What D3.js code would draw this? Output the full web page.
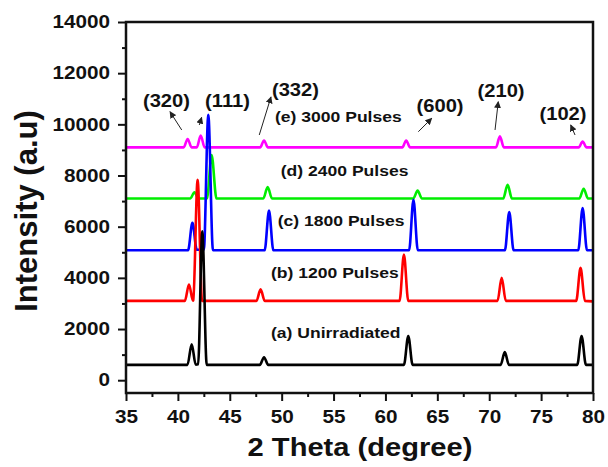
<!DOCTYPE html>
<html>
<head>
<meta charset="utf-8">
<script src="https://cdn.jsdelivr.net/npm/d3@7"></script>
<style>
  body { margin: 0; background: #fff; }
  text { font-family: "Liberation Sans", Arial, sans-serif; font-weight: bold; fill: #111; }
</style>
</head>
<body>
<svg id="chart" width="608" height="467"></svg>
<script>
// XRD patterns, [2theta, intensity]
const seriesA = [[35,600],[40.92,600],[41.33,1400],[41.72,610],[41.95,620],[42.35,5820],[42.78,600],[47.9,600],[48.3,900],[48.7,600],
  [61.78,600],[62.2,1730],[62.62,600],[71.1,600],[71.5,1100],[71.9,600],[78.48,600],[78.9,1730],[79.32,600],[80,600]];
const seriesB = [[35,3100],[40.67,3100],[41.07,3740],[41.45,3110],[41.48,3120],[41.9,7830],[42.33,3100],[47.57,3100],[47.97,3550],[48.37,3100],
  [61.36,3100],[61.78,4910],[62.2,3100],[70.8,3100],[71.2,4000],[71.6,3100],[78.38,3100],[78.8,4390],[79.22,3100],[80,3080]];
const seriesC = [[35,5080],[40.98,5080],[41.4,6150],[41.82,5100],[42.5,5100],[42.93,10370],[43.38,5080],[48.36,5080],[48.78,6630],[49.2,5080],
  [62.28,5080],[62.7,7050],[63.12,5080],[71.51,5080],[71.93,6570],[72.35,5080],[78.58,5080],[79.0,6730],[79.42,5080],[80,5080]];
const seriesD = [[35,7100],[41.18,7100],[41.6,7340],[42.0,7100],[42.8,7100],[43.25,8800],[43.72,7100],[48.23,7100],[48.65,7550],[49.07,7100],
  [62.68,7100],[63.1,7410],[63.52,7100],[71.35,7100],[71.77,7640],[72.19,7100],[78.68,7100],[79.1,7480],[79.52,7100],[80,7100]];
const seriesE = [[35,9100],[40.56,9100],[40.94,9430],[41.32,9100],[41.82,9100],[42.2,9560],[42.58,9100],[47.92,9100],[48.3,9370],[48.68,9100],
  [61.62,9100],[62.0,9370],[62.38,9100],[70.65,9100],[71.03,9530],[71.41,9100],[78.62,9100],[79.0,9330],[79.38,9100],[80,9100]];

const seriesNames = ["(a) Unirradiated", "(b) 1200 Pulses", "(c) 1800 Pulses", "(d) 2400 Pulses", "(e) 3000 Pulses"];
const seriesColors = ["#000000", "#ff0000", "#0000ff", "#00ee00", "#ff00ff"];
// where each series label starts, [2theta, intensity]
const seriesLabelPos = [[48.97,1650],[48.97,3995],[49.62,6027],[49.91,7981],[49.36,10092]];

// Miller index notes: label centre, arrow tail, arrow head
const peakLabels = ["(320)", "(111)", "(332)", "(600)", "(210)", "(102)"];
const peakLabelPos = [[38.90,10678],[44.78,10678],[51.33,11108],[65.26,10494],[71.14,11081],[77.11,10170]];
const arrowTail = [[40.37,9779],[42.06,9975],[47.84,9584],[63.17,9712],[70.56,9779],[78.27,9584]];
const arrowHead = [[39.24,10494],[42.29,10275],[48.97,11070],[64.46,10236],[70.87,10885],[77.85,9975]];

const xTicks = d3.range(35, 81, 5);
const xMinor = d3.range(37.5, 80, 5);
const yTicks = d3.range(0, 14001, 2000);
const yMinor = d3.range(1000, 14000, 2000);

const svg = d3.select("#chart");
const plotLeft = 126, plotRight = 593, plotTop = 22, plotBottom = 393;
const SX = 1.15; // the picture's lettering runs a bit wide

const x = d3.scaleLinear().domain([35, 80]).range([plotLeft, plotRight]);
const y = d3.scaleLinear().domain([-500, 14000]).range([plotBottom, plotTop]);

// axes
const xAxis = svg.append("g").attr("transform", "translate(0," + plotBottom + ")")
  .call(d3.axisBottom(x).tickValues(xTicks).tickSize(8).tickFormat(d3.format("d")));
xAxis.selectAll("text")
  .attr("y", 30).attr("dy", 0)
  .attr("transform", "scale(" + SX + ",1)")
  .style("font-size", "18px");
svg.append("g").attr("transform", "translate(0," + plotBottom + ")")
  .call(d3.axisBottom(x).tickValues(xMinor).tickSize(4).tickFormat(""));

const yAxis = svg.append("g").attr("transform", "translate(" + plotLeft + ",0)")
  .call(d3.axisLeft(y).tickValues(yTicks).tickSize(8).tickFormat(d3.format("d")));
yAxis.selectAll("text")
  .attr("x", 0)
  .attr("transform", "translate(-16,0) scale(" + SX + ",1)")
  .style("font-size", "18px");
svg.append("g").attr("transform", "translate(" + plotLeft + ",0)")
  .call(d3.axisLeft(y).tickValues(yMinor).tickSize(4).tickFormat(""));

svg.selectAll(".domain").remove();
svg.selectAll(".tick line").attr("stroke", "#111").attr("stroke-width", 2);

// the lines
const line = d3.line()
  .x(d => x(d[0]))
  .y(d => y(d[1]))
  .curve(d3.curveMonotoneX);

const allSeries = [seriesE, seriesD, seriesC, seriesB, seriesA];
const drawColors = [seriesColors[4], seriesColors[3], seriesColors[2], seriesColors[1], seriesColors[0]];

svg.append("g").selectAll("path")
  .data(allSeries)
  .enter()
  .append("path")
    .attr("d", d => line(d))
    .attr("fill", "none")
    .attr("stroke", (d, i) => drawColors[i])
    .attr("stroke-width", 2.6)
    .attr("stroke-linejoin", "round");

// frame
svg.append("rect")
  .attr("x", plotLeft).attr("y", plotTop)
  .attr("width", plotRight - plotLeft).attr("height", plotBottom - plotTop)
  .attr("fill", "none")
  .attr("stroke", "#111")
  .attr("stroke-width", 2.5);

// series labels
svg.append("g").selectAll("text")
  .data(seriesNames)
  .enter()
  .append("text")
    .attr("transform", (d, i) => "translate(" + x(seriesLabelPos[i][0]) + "," + y(seriesLabelPos[i][1]) + ") scale(1.17,1)")
    .style("font-size", "15px")
    .text(d => d);

// arrows and Miller indices
svg.append("defs").append("marker")
  .attr("id", "head")
  .attr("viewBox", "0 0 10 10")
  .attr("refX", 9).attr("refY", 5)
  .attr("markerWidth", 7).attr("markerHeight", 7)
  .attr("markerUnits", "userSpaceOnUse")
  .attr("orient", "auto")
  .append("path")
    .attr("d", "M0,0 L10,5 L0,10 z")
    .attr("fill", "#222");

svg.append("g").selectAll("line")
  .data(peakLabels)
  .enter()
  .append("line")
    .attr("x1", (d, i) => x(arrowTail[i][0]))
    .attr("y1", (d, i) => y(arrowTail[i][1]))
    .attr("x2", (d, i) => x(arrowHead[i][0]))
    .attr("y2", (d, i) => y(arrowHead[i][1]))
    .attr("stroke", "#222")
    .attr("stroke-width", 1)
    .attr("marker-end", "url(#head)");

svg.append("g").selectAll("text")
  .data(peakLabels)
  .enter()
  .append("text")
    .attr("text-anchor", "middle")
    .attr("transform", (d, i) => "translate(" + x(peakLabelPos[i][0]) + "," + y(peakLabelPos[i][1]) + ") scale(1.12,1)")
    .style("font-size", "18px")
    .text(d => d);

// axis titles
svg.append("text")
  .attr("text-anchor", "middle")
  .attr("transform", "translate(360,456) scale(1.12,1)")
  .style("font-size", "26px")
  .text("2 Theta (degree)");

svg.append("text")
  .attr("text-anchor", "middle")
  .attr("transform", "translate(37,211) rotate(-90)")
  .style("font-size", "31px")
  .text("Intensity (a.u)");
</script>
</body>
</html>
